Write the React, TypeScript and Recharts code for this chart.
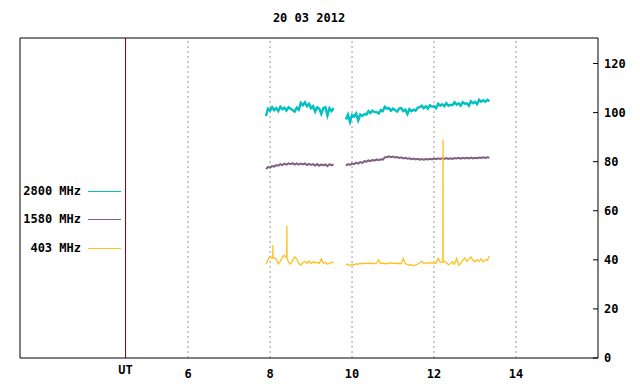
import React from "react";
import { LineChart, Line, XAxis, YAxis, ReferenceLine } from "recharts";

const TITLE = "20 03 2012";
const X_DOMAIN: [number, number] = [1.9, 16];
const Y_DOMAIN: [number, number] = [0, 130.4];
const X_TICKS = [6, 8, 10, 12, 14];
const Y_TICKS = [0, 20, 40, 60, 80, 100, 120];
const UT_POS = 4.475;
const UT_LABEL = "UT";

const TIMES_A = [7.9, 7.95, 8.0, 8.05, 8.1, 8.15, 8.2, 8.25, 8.3, 8.35, 8.4, 8.45, 8.5, 8.55, 8.6, 8.65, 8.7, 8.75, 8.8, 8.85, 8.9, 8.95, 9.0, 9.05, 9.1, 9.15, 9.2, 9.25, 9.3, 9.35, 9.4, 9.45, 9.5, 9.55];
const GAP_TIME = 9.7;
const TIMES_B = [9.85, 9.9, 9.95, 10.0, 10.05, 10.1, 10.15, 10.2, 10.25, 10.3, 10.35, 10.4, 10.45, 10.5, 10.55, 10.6, 10.65, 10.7, 10.75, 10.8, 10.85, 10.9, 10.95, 11.0, 11.05, 11.1, 11.15, 11.2, 11.25, 11.3, 11.35, 11.4, 11.45, 11.5, 11.55, 11.6, 11.65, 11.7, 11.75, 11.8, 11.85, 11.9, 11.95, 12.0, 12.05, 12.1, 12.15, 12.2, 12.25, 12.3, 12.35, 12.4, 12.45, 12.5, 12.55, 12.6, 12.65, 12.7, 12.75, 12.8, 12.85, 12.9, 12.95, 13.0, 13.05, 13.1, 13.15, 13.2, 13.25, 13.3, 13.35];

const F2800_A = [98.6, 101.6, 100.8, 102.2, 101.0, 101.8, 100.6, 102.4, 101.4, 102.0, 100.8, 102.2, 101.6, 101.0, 100.4, 102.0, 101.2, 104.0, 103.0, 104.2, 102.6, 103.6, 101.8, 102.6, 100.4, 102.2, 101.6, 99.4, 101.8, 102.2, 98.8, 101.8, 100.6, 101.8];
const F2800_B = [97.2, 99.2, 96.2, 99.0, 98.4, 99.6, 96.8, 99.2, 98.6, 99.4, 99.2, 100.6, 99.8, 100.8, 100.2, 100.2, 99.6, 101.0, 100.6, 102.4, 101.6, 101.8, 100.8, 101.6, 101.0, 100.4, 101.6, 101.8, 100.6, 101.2, 99.4, 101.4, 100.6, 101.2, 100.8, 102.0, 102.2, 102.8, 101.8, 102.6, 101.6, 103.0, 102.4, 102.6, 101.8, 103.6, 102.8, 103.4, 102.6, 103.8, 102.8, 103.2, 103.0, 104.2, 103.2, 103.8, 102.8, 104.2, 103.6, 103.8, 102.8, 104.6, 103.8, 104.4, 103.4, 105.2, 104.4, 105.0, 104.4, 105.2, 104.6];

const F1580_A = [77.0, 77.8, 77.6, 78.2, 78.0, 78.6, 78.4, 79.0, 78.6, 79.2, 78.8, 79.3, 79.0, 79.4, 78.8, 79.3, 78.8, 79.2, 78.9, 79.3, 78.6, 79.1, 78.7, 79.0, 78.4, 79.0, 78.3, 78.9, 78.5, 78.9, 78.2, 79.0, 78.5, 78.9];
const F1580_B = [78.4, 79.0, 78.7, 79.2, 79.0, 79.6, 79.2, 79.8, 79.5, 80.2, 80.0, 80.5, 80.2, 80.7, 80.4, 80.9, 80.6, 81.0, 80.8, 81.8, 81.8, 82.2, 81.8, 82.1, 81.7, 81.9, 81.5, 81.8, 81.3, 81.6, 81.2, 81.4, 81.0, 81.3, 80.9, 81.2, 80.8, 81.1, 80.8, 81.1, 80.9, 81.2, 80.9, 81.3, 81.0, 81.4, 81.1, 81.4, 81.1, 81.5, 81.1, 81.4, 81.1, 81.5, 81.3, 81.6, 81.2, 81.6, 81.3, 81.6, 81.3, 81.7, 81.3, 81.6, 81.4, 81.7, 81.5, 81.8, 81.5, 81.8, 81.6];

const F403_A = [38.2, 40.0, 41.5, 40.6, 40.8, 40.4, 38.3, 39.4, 41.2, 41.8, 41.0, 39.0, 38.3, 39.6, 41.2, 40.4, 38.6, 37.9, 38.8, 39.4, 38.6, 39.5, 38.5, 39.2, 38.8, 39.0, 38.6, 40.4, 38.6, 39.0, 38.2, 38.6, 39.0, 38.8];
const F403_B = [38.0, 38.2, 37.6, 38.2, 38.0, 38.4, 38.2, 38.6, 38.4, 38.6, 38.5, 38.7, 38.5, 38.6, 38.4, 38.7, 40.0, 38.5, 38.7, 38.4, 38.6, 38.5, 38.8, 38.6, 38.7, 38.5, 38.6, 38.4, 40.6, 38.4, 38.2, 37.8, 38.0, 37.6, 38.0, 38.2, 38.8, 39.4, 38.6, 38.8, 38.4, 39.0, 38.6, 38.8, 38.6, 40.6, 39.0, 39.0, 39.4, 38.8, 38.0, 38.4, 39.2, 38.2, 40.6, 37.8, 38.6, 39.8, 40.8, 39.4, 40.2, 41.2, 39.8, 39.2, 40.0, 39.4, 40.4, 39.2, 40.0, 39.8, 41.5];
// narrow spikes on the 403 MHz trace: [time, value]
const F403_SPIKES: [number, number][] = [[8.066, 40.8], [8.07, 46.0], [8.074, 40.8], [8.406, 41.4], [8.41, 54.0], [8.414, 40.8], [12.216, 39.2], [12.22, 89.0], [12.224, 39.2]];

type Pt = { t: number; v: number | null };
const buildSeries = (a: number[], b: number[], extra: [number, number][] = []): Pt[] => {
  const pts: Pt[] = [];
  TIMES_A.forEach((t, i) => pts.push({ t, v: a[i] }));
  pts.push({ t: GAP_TIME, v: null });
  TIMES_B.forEach((t, i) => pts.push({ t, v: b[i] }));
  extra.forEach(([t, v]) => pts.push({ t, v }));
  return pts.sort((p, q) => p.t - q.t);
};

const SERIES = [
  { key: "f2800", name: "2800 MHz", color: "#00c0c0", data: buildSeries(F2800_A, F2800_B), width: 2.4 },
  { key: "f1580", name: "1580 MHz", color: "#806080", data: buildSeries(F1580_A, F1580_B), width: 2 },
  { key: "f403", name: "403 MHz", color: "#ffc020", data: buildSeries(F403_A, F403_B, F403_SPIKES), width: 1.3 },
];

const FONT = "'DejaVu Sans Mono', monospace";
const LEGEND_ROW_TOPS = [184, 212, 241];

const XTick = (props: any) => {
  const { x, y, payload } = props;
  const isUT = payload.value === UT_POS;
  return (
    <text x={x} y={y + (isUT ? 12 : 16)} textAnchor="middle" dominantBaseline="central" fontFamily={FONT} fontWeight="bold" fontSize={12} fill="#000">
      {isUT ? UT_LABEL : payload.value}
    </text>
  );
};

const YTick = (props: any) => {
  const { x, y, payload } = props;
  return (
    <g>
      <line x1={x - 11} x2={x - 6} y1={y} y2={y} stroke="#000" />
      <text x={x} y={y} textAnchor="start" dominantBaseline="central" fontFamily={FONT} fontWeight="bold" fontSize={12} fill="#000">
        {payload.value}
      </text>
    </g>
  );
};

export default function App() {
  return (
    <div style={{ position: "absolute", left: 0, top: 0, width: 640, height: 384, background: "#fff" }}>
      <div style={{ position: "absolute", left: 20, width: 578, top: 11, textAlign: "center", fontFamily: FONT, fontWeight: "bold", fontSize: 12, lineHeight: "14px", whiteSpace: "pre" }}>
        {TITLE}
      </div>
      {SERIES.map((s, i) => (
        <div key={s.key} style={{ position: "absolute", left: 0, top: LEGEND_ROW_TOPS[i], width: 125, height: 14, zIndex: 2 }}>
          <span style={{ position: "absolute", left: 0, top: 0, width: 81, textAlign: "right", fontFamily: FONT, fontWeight: "bold", fontSize: 12, lineHeight: "14px", color: "#000", whiteSpace: "pre" }}>
            {s.name}
          </span>
          <span style={{ position: "absolute", left: 88, top: 7, width: 33, height: 1, background: s.color }} />
        </div>
      ))}
      <LineChart width={640} height={384} margin={{ top: 38, right: 0, bottom: 0, left: 20 }}>
        <XAxis
          dataKey="t"
          type="number"
          domain={X_DOMAIN}
          allowDataOverflow
          ticks={[UT_POS, ...X_TICKS]}
          interval={0}
          height={26}
          tickSize={0}
          tickMargin={0}
          tickLine={false}
          axisLine={false}
          tick={<XTick />}
        />
        <YAxis
          orientation="right"
          type="number"
          domain={Y_DOMAIN}
          allowDataOverflow
          ticks={Y_TICKS}
          interval={0}
          width={42}
          tickSize={6}
          tickMargin={0}
          tickLine={false}
          axisLine={false}
          tick={<YTick />}
        />
        {X_TICKS.map((v) => (
          <ReferenceLine key={"g" + v} x={v} stroke="#999" strokeDasharray="2 3" />
        ))}
        <ReferenceLine x={UT_POS} stroke="#800000" />
        <ReferenceLine x={X_DOMAIN[0]} stroke="#000" />
        <ReferenceLine x={X_DOMAIN[1]} stroke="#000" />
        <ReferenceLine y={Y_DOMAIN[0]} stroke="#000" />
        <ReferenceLine y={Y_DOMAIN[1]} stroke="#000" />
        {SERIES.map((s) => (
          <Line key={s.key} data={s.data} dataKey="v" name={s.name} stroke={s.color} strokeWidth={s.width} dot={false} activeDot={false} type="linear" isAnimationActive={false} />
        ))}
      </LineChart>
    </div>
  );
}
